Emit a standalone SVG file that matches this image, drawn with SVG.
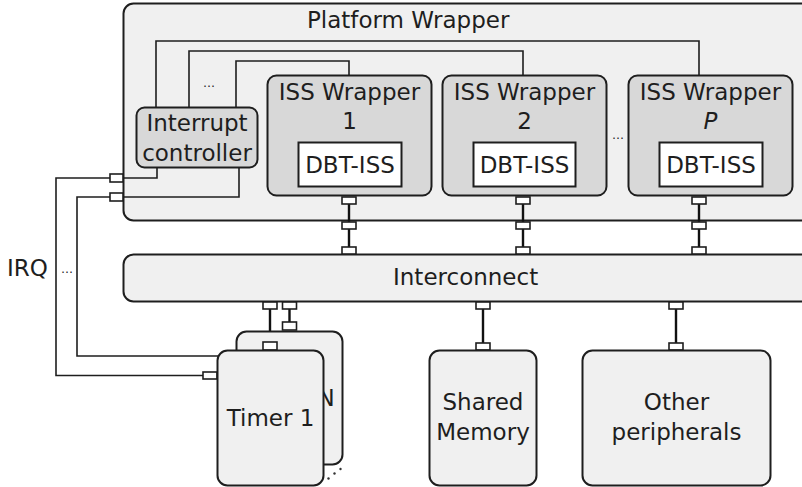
<svg xmlns="http://www.w3.org/2000/svg" width="802" height="487" viewBox="0 0 802 487">
  <style>
    .box { fill: #f0f0f0; stroke: #1e1e1e; stroke-width: 2; }
    .dark { fill: #d8d8d8; stroke: #1e1e1e; stroke-width: 2; }
    .white { fill: #ffffff; stroke: #1e1e1e; stroke-width: 2; }
    .port { fill: #ffffff; stroke: #1e1e1e; stroke-width: 1.6; }
    .wire { fill: none; stroke: #1e1e1e; stroke-width: 1.6; }
    .bus { fill: none; stroke: #111111; stroke-width: 2.4; }
    text { font-family: "DejaVu Sans", Verdana, sans-serif; font-size: 23px; fill: #1e1e1e; }
    .mid { text-anchor: middle; }
    .dots { font-size: 12px; text-anchor: middle; }
  </style>
  <rect width="802" height="487" fill="#ffffff"/>

  <!-- Platform wrapper container -->
  <g id="platform-wrapper">
    <rect class="box" x="123.5" y="3.5" width="700" height="217" rx="10"/>
    <text x="307" y="28">Platform Wrapper</text>
  </g>

  <!-- Shared interconnect bus -->
  <g id="interconnect">
    <rect class="box" x="123.5" y="254.5" width="700" height="47" rx="10"/>
    <text x="393" y="285">Interconnect</text>
  </g>

  <!-- Connectors (drawn under the nodes they meet) -->
  <g id="connectors">
    <!-- interrupt lines from the controller to each ISS wrapper -->
    <path class="wire" d="M156,107 V41 H699 V75"/>
    <path class="wire" d="M189,107 V51 H523 V75"/>
    <path class="wire" d="M236,107 V61 H349 V75"/>
    <!-- controller inputs to the platform boundary -->
    <path class="wire" d="M157,168 V178 H123"/>
    <path class="wire" d="M239,168 V197 H123"/>
    <!-- IRQ lines from the timers -->
    <path class="wire" d="M110,178 H56 V375.5 H203"/>
    <path class="wire" d="M110,197 H77 V356 H236"/>
    <!-- ISS wrappers to interconnect -->
    <path class="bus" d="M349,204 V247"/>
    <path class="bus" d="M523,204 V247"/>
    <path class="bus" d="M699,204 V247"/>
    <!-- interconnect to peripherals -->
    <path class="bus" d="M270,309 V342"/>
    <path class="bus" d="M289.5,309 V322"/>
    <path class="bus" d="M483,309 V343"/>
    <path class="bus" d="M676,309 V343"/>
  </g>

  <!-- Interrupt controller -->
  <g id="interrupt-controller">
    <rect class="dark" x="136.5" y="107.5" width="121" height="60" rx="8"/>
    <text class="mid" x="197" y="131">Interrupt</text>
    <text class="mid" x="197" y="161">controller</text>
  </g>
  <text class="dots" x="209" y="87">…</text>

  <!-- ISS wrappers -->
  <g id="iss-wrapper-1">
    <rect class="dark" x="267.5" y="75.5" width="164" height="120" rx="9"/>
    <text class="mid" x="349.5" y="100">ISS Wrapper</text>
    <text class="mid" x="349.5" y="129">1</text>
    <rect class="white" x="298.5" y="142.5" width="103" height="44"/>
    <text class="mid" x="350" y="173">DBT-ISS</text>
  </g>
  <g id="iss-wrapper-2">
    <rect class="dark" x="442.5" y="75.5" width="164" height="120" rx="9"/>
    <text class="mid" x="524.5" y="100">ISS Wrapper</text>
    <text class="mid" x="524.5" y="129">2</text>
    <rect class="white" x="473.5" y="142.5" width="102" height="44"/>
    <text class="mid" x="524.5" y="173">DBT-ISS</text>
  </g>
  <text class="dots" x="618" y="139">…</text>
  <g id="iss-wrapper-p">
    <rect class="dark" x="628.5" y="75.5" width="164" height="120" rx="9"/>
    <text class="mid" x="710.5" y="100">ISS Wrapper</text>
    <text class="mid" x="710.5" y="129" font-style="italic">P</text>
    <rect class="white" x="659.5" y="142.5" width="103" height="44"/>
    <text class="mid" x="711" y="173">DBT-ISS</text>
  </g>

  <!-- Ports -->
  <g id="ports">
    <rect class="port" x="110" y="174" width="13" height="8"/>
    <rect class="port" x="110" y="193" width="13" height="8"/>
    <rect class="port" x="342" y="197" width="14" height="7"/>
    <rect class="port" x="342" y="222" width="14" height="7"/>
    <rect class="port" x="342" y="247" width="14" height="7"/>
    <rect class="port" x="516" y="197" width="14" height="7"/>
    <rect class="port" x="516" y="222" width="14" height="7"/>
    <rect class="port" x="516" y="247" width="14" height="7"/>
    <rect class="port" x="692" y="197" width="14" height="7"/>
    <rect class="port" x="692" y="222" width="14" height="7"/>
    <rect class="port" x="692" y="247" width="14" height="7"/>
    <rect class="port" x="263" y="302" width="14" height="7"/>
    <rect class="port" x="282.5" y="302" width="14" height="7"/>
    <rect class="port" x="476" y="302" width="14" height="7"/>
    <rect class="port" x="669" y="302" width="14" height="7"/>
    <rect class="port" x="476" y="343" width="14" height="7"/>
    <rect class="port" x="669" y="343" width="14" height="7"/>
  </g>

  <!-- IRQ label -->
  <text x="7" y="276">IRQ</text>
  <text class="dots" x="67" y="273">…</text>

  <!-- Timers -->
  <g id="timer-n">
    <rect class="port" x="282.5" y="322" width="14" height="8"/>
    <rect class="box" x="236.5" y="331.5" width="106" height="133" rx="10"/>
    <text class="mid" x="289.5" y="406">Timer N</text>
  </g>
  <g id="timer-1">
    <rect class="port" x="263" y="342" width="14" height="8"/>
    <rect class="port" x="203" y="372" width="14" height="7"/>
    <rect class="box" x="217.5" y="350.5" width="106" height="135" rx="10"/>
    <text class="mid" x="270.5" y="426">Timer 1</text>
  </g>
  <g id="timer-ellipsis" fill="#333333">
    <circle cx="328.5" cy="478.5" r="1.2"/>
    <circle cx="334.5" cy="473.5" r="1.2"/>
    <circle cx="340.5" cy="469" r="1.2"/>
  </g>

  <!-- Memory and peripherals -->
  <g id="shared-memory">
    <rect class="box" x="429.5" y="350.5" width="107" height="135" rx="10"/>
    <text class="mid" x="483" y="410">Shared</text>
    <text class="mid" x="483" y="440">Memory</text>
  </g>
  <g id="other-peripherals">
    <rect class="box" x="582.5" y="350.5" width="188" height="135" rx="10"/>
    <text class="mid" x="676.5" y="410">Other</text>
    <text class="mid" x="676.5" y="440">peripherals</text>
  </g>
</svg>
